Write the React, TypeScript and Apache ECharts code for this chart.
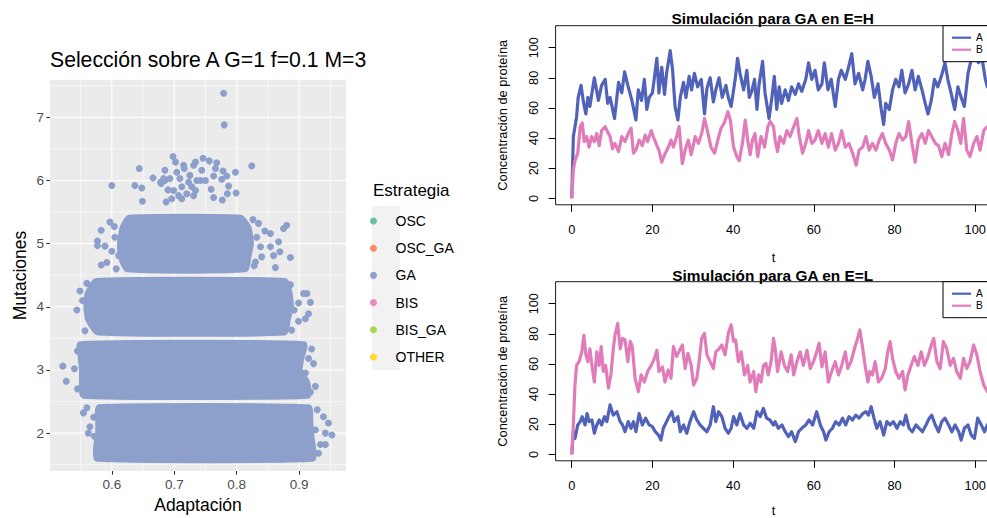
import React, { useEffect, useRef } from "react";
import * as echarts from "echarts";

// ---------- Left panel: scatter (Estrategia) ----------
const STRATEGIES = ["OSC", "OSC_GA", "GA", "BIS", "BIS_GA", "OTHER"];
const STRATEGY_COLORS = ["#66C2A5", "#FC8D62", "#8DA0CB", "#E78AC3", "#A6D854", "#FFD92F"];

// dense jittered clouds (outline of point centres) for Mutaciones = 2..5
const core2 = [[0.58, 2.4], [0.915, 2.4], [0.917, 2.2], [0.918, 2.0], [0.921, 1.8], [0.921, 1.6], [0.577, 1.6], [0.576, 1.8], [0.579, 2.0], [0.579, 2.2]];
const core3 = [[0.55, 3.4], [0.907, 3.4], [0.903, 3.2], [0.9, 3.0], [0.912, 2.8], [0.913, 2.6], [0.555, 2.6], [0.553, 2.8], [0.553, 3.0], [0.551, 3.2]];
const core4 = [[0.575, 4.4], [0.877, 4.4], [0.884, 4.2], [0.886, 4.0], [0.881, 3.8], [0.876, 3.6], [0.578, 3.6], [0.563, 3.8], [0.56, 4.0], [0.562, 4.2]];
const core5 = [[0.628, 5.4], [0.806, 5.4], [0.818, 5.25], [0.822, 5.0], [0.818, 4.8], [0.813, 4.6], [0.625, 4.6], [0.615, 4.8], [0.614, 5.0], [0.618, 5.25]];
const GA_CORES = [core2, core3, core4, core5];

// individual visible points (GA)
const gaPoints = [
  // Mutaciones 2
  [0.5545, 2.32], [0.565, 2.1], [0.5625, 2.0], [0.56, 2.4], [0.939, 2.26], [0.947, 2.16], [0.9525, 1.97], [0.942, 2.0],
  [0.934, 1.82], [0.942, 1.82], [0.931, 1.68], [0.929, 2.37], [0.572, 1.95], [0.571, 2.25], [0.926, 2.05],
  // Mutaciones 3
  [0.5215, 3.06], [0.527, 2.82], [0.54, 3.02], [0.92, 3.33], [0.923, 3.1], [0.926, 2.74], [0.915, 3.18], [0.545, 2.7], [0.545, 3.3],
  [0.91, 2.95], [0.918, 2.65],
  // Mutaciones 4
  [0.544, 3.95], [0.557, 3.62], [0.549, 4.25], [0.56, 4.37], [0.907, 4.21], [0.9125, 4.21], [0.918, 4.07], [0.915, 3.89],
  [0.91, 3.81], [0.899, 3.77], [0.888, 3.63], [0.886, 4.35], [0.899, 4.06], [0.553, 4.1], [0.892, 3.95],
  // Mutaciones 5
  [0.597, 5.34], [0.583, 5.21], [0.577, 5.04], [0.589, 4.96], [0.577, 4.97], [0.583, 4.66], [0.592, 4.7], [0.607, 4.6],
  [0.611, 4.81], [0.604, 5.27], [0.62, 5.27], [0.88, 5.29], [0.875, 5.24], [0.867, 5.03], [0.854, 5.16], [0.854, 4.95],
  [0.886, 4.78], [0.869, 4.87], [0.859, 4.81], [0.862, 4.62], [0.84, 4.79], [0.838, 4.95], [0.835, 5.32], [0.845, 5.2],
  [0.83, 4.71], [0.828, 4.65], [0.605, 5.1], [0.6, 4.88], [0.832, 5.1], [0.826, 5.38],
  // Mutaciones 6
  [0.6, 5.92], [0.637, 5.92], [0.648, 5.88], [0.644, 6.19], [0.649, 5.67], [0.666, 6.04], [0.679, 5.95], [0.683, 6.03],
  [0.685, 6.16], [0.69, 5.85], [0.687, 5.66], [0.693, 6.03], [0.698, 6.38], [0.702, 6.29], [0.704, 6.13], [0.696, 5.71],
  [0.709, 6.03], [0.712, 5.71], [0.715, 6.24], [0.72, 5.79], [0.723, 5.97], [0.725, 6.08], [0.731, 6.24], [0.734, 6.29],
  [0.736, 6.0], [0.734, 5.84], [0.731, 5.76], [0.742, 6.0], [0.746, 6.35], [0.744, 6.16], [0.75, 6.0], [0.756, 6.31],
  [0.759, 5.86], [0.763, 5.73], [0.766, 6.19], [0.768, 6.28], [0.763, 6.07], [0.778, 6.15], [0.776, 6.02], [0.784, 6.07],
  [0.777, 5.69], [0.787, 5.91], [0.785, 5.79], [0.798, 6.13], [0.799, 5.8], [0.824, 6.23], [0.685, 6.0], [0.712, 5.9],
  [0.728, 5.9], [0.699, 5.84], [0.716, 6.19], [0.707, 5.76], [0.678, 5.97],
  // Mutaciones 7
  [0.779, 7.38], [0.78, 6.88],
];

const X_MAJOR = [0.6, 0.7, 0.8, 0.9];
const X_MINOR = [0.55, 0.65, 0.75, 0.85, 0.95];
const Y_MAJOR = [2, 3, 4, 5, 6, 7];
const Y_MINOR = [1.5, 2.5, 3.5, 4.5, 5.5, 6.5, 7.5];

// ---------- Right panels: simulations ----------
const T_TICKS = [0, 20, 40, 60, 80, 100];
const C_TICKS = [0, 20, 40, 60, 80, 100];

// E=H, A
const tAH = [0, 0.4, 1.2, 1.6, 2.3, 2.9, 3.5, 4, 4.5, 5.6, 6.2, 6.6, 7.4, 8.3, 8.9, 9.5, 10.6, 11.6, 12.4, 13.1, 13.9, 14.9, 15.9, 16.5, 17.3, 18, 18.6, 19.2, 20, 21.1, 21.6, 22.3, 23, 23.5, 24.4, 25, 25.6, 26.3, 26.9, 27.7, 28.3, 29.1, 29.7, 30.4, 31.2, 32.1, 32.9, 33.5, 34.3, 35.1, 35.7, 36.5, 37.3, 38.2, 38.8, 39.5, 40.5, 41.1, 41.7, 42.6, 43.4, 44, 44.6, 45.3, 45.9, 46.4, 47.3, 47.9, 48.9, 49.6, 50.2, 50.8, 51.4, 52, 52.9, 53.7, 54.5, 55.4, 56.2, 57, 58, 58.7, 59.5, 60.3, 61.1, 62, 62.6, 63.5, 64.3, 65.3, 66.1, 66.8, 67.8, 68.6, 69.4, 70.2, 71.1, 72.1, 72.7, 73.4, 74.2, 75, 75.9, 76.7, 77.3, 77.8, 78.7, 79.5, 80.3, 81.1, 81.8, 82.6, 83.5, 84.3, 85.1, 85.9, 86.8, 87.6, 88.3, 89.1, 89.9, 90.7, 91.6, 92.5, 93.2, 94, 94.9, 95.7, 96.5, 97.3, 98.2, 99, 99.8, 100.8, 101.6, 102.5, 103, 104];
const vAH = [0, 41, 54, 67, 75, 64, 56, 67, 61, 80, 71, 65, 75, 79, 63, 67, 53, 77, 70, 84, 75, 65, 52, 72, 65, 79, 59, 67, 70, 93, 70, 87, 69, 83, 98, 85, 61, 52, 67, 77, 67, 81, 72, 83, 74, 79, 56, 73, 80, 64, 72, 80, 67, 75, 67, 61, 79, 93, 83, 72, 85, 67, 71, 79, 59, 75, 91, 70, 53, 67, 81, 59, 74, 63, 72, 65, 74, 69, 76, 71, 79, 90, 79, 85, 72, 76, 90, 72, 79, 61, 79, 85, 79, 87, 96, 76, 83, 72, 79, 91, 81, 67, 76, 59, 49, 63, 59, 72, 79, 74, 85, 70, 76, 85, 72, 81, 72, 63, 56, 65, 79, 74, 81, 90, 79, 70, 59, 74, 67, 61, 83, 92, 98, 90, 94, 79, 74, 80];
// E=H, B
const tBH = [0, 0.4, 0.8, 1.5, 2.1, 2.6, 3.1, 3.7, 4.3, 4.9, 5.6, 6.2, 6.8, 7.4, 8.3, 8.9, 9.5, 10.1, 10.7, 11.6, 12.4, 13.2, 14, 14.7, 15.3, 15.9, 16.7, 17.5, 18.2, 18.8, 19.7, 20.2, 21.1, 21.6, 22.3, 23, 23.8, 24.6, 25.2, 26, 26.6, 27.4, 28.1, 28.9, 29.6, 30.6, 31.4, 32.2, 32.9, 33.7, 34.5, 35.4, 36.2, 37, 37.8, 38.7, 39.3, 40.1, 40.9, 41.5, 42.3, 43, 43.6, 44.2, 44.8, 45.4, 46.1, 46.9, 47.8, 48.6, 49.2, 50, 50.4, 51, 51.6, 52.5, 53.3, 54.1, 55, 55.8, 56.4, 57.2, 58, 58.7, 59.5, 60.3, 61.1, 62, 62.8, 63.6, 64.4, 65.3, 66.1, 66.9, 67.8, 68.7, 69.6, 70.5, 71.2, 72.1, 72.9, 73.7, 74.5, 75.4, 76.2, 77, 77.8, 78.7, 79.5, 80.3, 81.1, 82, 82.8, 83.5, 84.3, 85.1, 85.9, 86.8, 87.6, 88.4, 89.2, 90.1, 90.9, 91.7, 92.5, 93.4, 94.2, 94.9, 95.7, 96.4, 97.1, 97.9, 98.7, 99.6, 100.4, 101.2, 102.1, 103, 104];
const vBH = [0, 19, 25, 30, 47.6, 50, 37.6, 41, 34, 41, 37.6, 43, 35, 45, 47.6, 44, 41, 33, 36.5, 31, 41, 37.6, 43, 46.5, 30, 32, 38.7, 35, 42, 37.6, 45, 41, 35, 32, 24, 29, 33, 38.7, 34, 41, 47.6, 23, 32, 38.7, 29, 41, 36.5, 43, 53, 44, 34, 30, 38.7, 46.5, 50, 57.5, 52, 34, 27.7, 25, 36.5, 52, 38.7, 29, 38.7, 43, 27.7, 41, 34, 47.6, 51, 47.6, 38.7, 31, 41, 36.5, 45, 41, 47.6, 53, 41, 30, 36.5, 45, 36.5, 38.7, 45, 36.5, 43, 34, 43, 32, 36.5, 45, 34, 36.5, 30, 22, 32, 34, 41, 32, 36.5, 32, 38.7, 43, 36.5, 32, 25.5, 36.5, 43, 38.7, 41, 51, 36.5, 24, 38.7, 43, 36.5, 45, 41, 36.5, 35, 27.7, 36.5, 29, 43, 51, 45, 36.5, 53, 32, 27.7, 36.5, 41, 32, 45, 47.6, 44];
// E=L, A
const tAL = [0, 0.4, 0.8, 1.5, 2.1, 2.6, 3.3, 3.8, 4.3, 5, 5.6, 6.2, 6.8, 7.4, 8.1, 8.7, 9.5, 10.3, 11.2, 12, 12.6, 13.2, 14, 14.7, 15.3, 15.9, 16.7, 17.5, 18.3, 19.2, 20, 20.7, 21.5, 22.1, 22.7, 23.5, 24.1, 24.8, 25.4, 26.3, 26.9, 27.7, 28.5, 29.3, 30.2, 31, 31.8, 32.6, 33.5, 34.3, 35.1, 35.7, 36.4, 37.2, 38, 38.8, 39.5, 40.1, 40.9, 41.7, 42.6, 43.4, 44.2, 45.1, 45.9, 46.7, 47.5, 48.3, 49.1, 50, 50.4, 51.2, 52.1, 52.9, 53.7, 54.5, 55.4, 56.2, 57, 58, 58.8, 59.7, 60.7, 61.6, 62.4, 63, 63.8, 64.6, 65.4, 66.3, 67.1, 67.9, 68.7, 69.6, 70.4, 71.2, 72.1, 72.9, 73.5, 74.2, 74.9, 75.6, 76.4, 77.3, 78.1, 78.9, 79.7, 80.6, 81.4, 82.2, 82.8, 83.6, 84.4, 85.3, 86.1, 86.9, 87.8, 88.6, 89.2, 90.1, 90.9, 91.7, 92.5, 93.4, 94.2, 95, 95.9, 96.5, 97.3, 98.2, 99, 99.8, 100.6, 101.5, 102.3, 103, 104];
const vAL = [0, 15, 10.6, 19.5, 21.7, 25, 19.5, 27, 21.7, 22.8, 14, 19.5, 22.8, 19.5, 25, 21.7, 32.8, 26, 28.3, 21.7, 19.5, 15, 21.7, 17.3, 21.7, 15, 27, 19.5, 24, 19.5, 18.4, 15, 12.8, 9.5, 17.3, 21.7, 25, 28.3, 21.7, 25, 15, 19.5, 14, 21.7, 28.3, 22.8, 19.5, 17.3, 15, 19.5, 31.6, 21.7, 28.3, 25, 17.3, 14, 17.3, 25, 19.5, 27, 19.5, 17.3, 20.6, 17.3, 28.3, 25, 30.5, 24, 22.8, 19.5, 21.7, 17.3, 19.5, 15, 11.7, 15, 8.4, 15, 17.3, 19.5, 22.8, 19.5, 28.3, 19.5, 15, 9.5, 15, 17.3, 21.7, 19.5, 24, 19.5, 25, 22.8, 26, 24, 27, 28.3, 26, 31.6, 24, 17.3, 21.7, 12.8, 21.7, 19.5, 21.7, 17.3, 21.7, 19.5, 26, 17.3, 15, 19.5, 17.3, 15, 19.5, 24, 26, 19.5, 15, 21.7, 24, 19.5, 15, 19.5, 15, 9.5, 17.3, 19.5, 12.8, 10.6, 24, 19.5, 15, 19.5, 17];
// E=L, B
const tBL = [0, 0.4, 0.8, 1.2, 1.8, 2.5, 3, 3.5, 4, 4.5, 5.1, 5.6, 6.2, 6.8, 7.3, 7.8, 8.4, 9.1, 9.7, 10.3, 10.7, 11.4, 12, 12.6, 13.2, 13.9, 14.5, 15, 15.7, 16.5, 17.2, 18, 18.8, 19.7, 20.5, 21.1, 21.6, 22.5, 23.1, 23.9, 24.6, 25.2, 26, 26.9, 27.4, 28.1, 28.8, 29.6, 30.2, 31, 31.6, 32.2, 32.9, 33.5, 34.3, 35.1, 35.7, 36.5, 37.2, 38, 38.8, 39.5, 40.1, 40.6, 41.3, 42, 42.8, 43.6, 44.2, 45.1, 45.6, 46.3, 46.9, 47.5, 48.1, 48.7, 49.4, 50, 50.4, 51, 51.9, 52.7, 53.5, 54.4, 55, 55.8, 56.6, 57.4, 58.3, 59.1, 59.9, 60.7, 61.3, 62, 62.8, 63.6, 64.4, 65.3, 66.1, 66.9, 67.8, 68.4, 69.2, 70.1, 70.6, 71.4, 72.1, 72.7, 73.4, 73.9, 74.5, 75.2, 76, 76.8, 77.7, 78.3, 78.9, 79.5, 80.3, 81.1, 82, 82.6, 83.3, 84.1, 84.9, 85.8, 86.6, 87.4, 88.3, 89.1, 89.7, 90.5, 91.3, 92.1, 92.9, 93.8, 94.6, 95.4, 96.3, 97.1, 97.9, 98.7, 99.6, 100.4, 101.2, 102.1, 103, 104];
const vBL = [0, 19.5, 46, 59, 61.5, 68, 79, 66, 61.5, 70, 57, 48, 68, 59, 71.5, 55, 59, 44, 52.7, 70, 79, 87, 70, 77, 76, 61.5, 75, 71.5, 50.5, 41.6, 52.7, 48, 55, 59, 63.7, 69, 55, 58, 48, 56, 50.5, 71.5, 65, 70, 72.6, 57, 67, 59, 46, 50.5, 62.6, 77, 80.3, 66, 61.5, 57, 68, 70, 72.6, 66, 80.3, 86, 75, 76, 61.5, 68, 52.7, 59, 48, 55, 41.6, 52.7, 48, 59, 60.4, 52.7, 61.5, 77, 70.4, 55, 68, 59, 55, 66, 52.7, 61.5, 68, 59, 69, 57, 61.5, 68, 73.7, 58, 68, 48, 55, 61.5, 52.7, 59, 68, 57, 61.5, 70.4, 74.8, 82.6, 70.4, 59, 48, 55, 52.7, 61.5, 48, 50.5, 57, 68, 74.8, 63.7, 55, 50.5, 55, 42.7, 52.7, 59, 64.9, 59, 68, 59, 64.9, 72.6, 77, 61.5, 57, 74.8, 70.4, 59, 63.7, 55, 50.5, 63.7, 57, 61.5, 72.6, 66, 55, 46, 41.6, 45];

const COLOR_A = "#5062B9";
const COLOR_B = "#E07CBA";
const GA_COLOR = STRATEGY_COLORS[2];
const FONT = "'Liberation Sans', Arial, Helvetica, sans-serif";

const zip = (t: number[], v: number[]) => t.map((x, i) => [x, v[i]]);

const X0 = [0.501, 0.975];
const Y0 = [1.4, 7.59];

function buildOption() {
  const gridData: number[][] = [
    ...X_MINOR.map((v) => [0, v, 0]),
    ...Y_MINOR.map((v) => [1, v, 0]),
    ...X_MAJOR.map((v) => [0, v, 1]),
    ...Y_MAJOR.map((v) => [1, v, 1]),
  ];

  const rightX = (gi: number, gap: number) => ({
    type: "value",
    gridIndex: gi,
    min: -4,
    max: 104,
    axisLine: { show: false, onZero: false },
    splitLine: { show: false },
    axisTick: { show: true, customValues: T_TICKS, length: 7, lineStyle: { color: "#000", width: 1 } },
    axisLabel: { customValues: T_TICKS, color: "#000", fontSize: 12.8, margin: 18, fontFamily: FONT },
    name: "t",
    nameLocation: "middle",
    nameGap: gap,
    nameTextStyle: { color: "#000", fontSize: 12.8, fontFamily: FONT },
  });
  const rightY = (gi: number) => ({
    type: "value",
    gridIndex: gi,
    min: -4.3,
    max: 114.6,
    axisLine: { show: false, onZero: false },
    splitLine: { show: false },
    axisTick: { show: true, customValues: C_TICKS, length: 7, lineStyle: { color: "#000", width: 1 } },
    axisLabel: { customValues: C_TICKS, color: "#000", fontSize: 12.8, margin: 16, rotate: 90, fontFamily: FONT },
    name: "Concentración de proteína",
    nameLocation: "middle",
    nameGap: 47,
    nameTextStyle: { color: "#000", fontSize: 12.8, fontFamily: FONT },
  });
  const rightLegend = (top: number) => ({
    data: [
      { name: "A", icon: "rect" },
      { name: "B", icon: "rect" },
    ],
    orient: "vertical",
    left: 943,
    top,
    itemWidth: 19,
    itemHeight: 2.2,
    itemGap: 2,
    padding: [7, 8, 7, 9],
    borderColor: "#000",
    borderWidth: 1,
    borderRadius: 0,
    backgroundColor: "#fff",
    selectedMode: false,
    textStyle: { color: "#000", fontSize: 10.2, lineHeight: 10, fontFamily: FONT },
  });
  const lineSeries = (name: string, data: number[][], color: string, gi: number) => ({
    type: "line",
    name,
    xAxisIndex: gi,
    yAxisIndex: gi,
    data,
    symbol: "none",
    showSymbol: false,
    clip: true,
    z: 3,
    lineStyle: { color, width: 3.2, join: "round" },
    itemStyle: { color },
  });

  return {
    animation: false,
    backgroundColor: "#fff",
    textStyle: { fontFamily: FONT },
    grid: [
      { left: 50, top: 80, width: 296, height: 391, show: true, backgroundColor: "#EBEBEB", borderWidth: 0, outerBoundsMode: "none" },
      { left: 555.6, top: 25.7, width: 435.8, height: 179.1, show: true, backgroundColor: "transparent", borderColor: "#1a1a1a", borderWidth: 1, outerBoundsMode: "none" },
      { left: 555.6, top: 281.7, width: 435.8, height: 179.1, show: true, backgroundColor: "transparent", borderColor: "#1a1a1a", borderWidth: 1, outerBoundsMode: "none" },
    ],
    xAxis: [
      {
        type: "value",
        gridIndex: 0,
        min: X0[0],
        max: X0[1],
        axisLine: { show: false, onZero: false },
        splitLine: { show: false },
        axisTick: { show: true, customValues: X_MAJOR, length: 3.7, lineStyle: { color: "#333", width: 1.1 } },
        axisLabel: { customValues: X_MAJOR, color: "#4D4D4D", fontSize: 13.5, margin: 6, fontFamily: FONT },
        name: "Adaptación",
        nameLocation: "middle",
        nameGap: 25,
        nameTextStyle: { color: "#000", fontSize: 17.5, fontFamily: FONT },
      },
      rightX(1, 46),
      rightX(2, 43),
    ],
    yAxis: [
      {
        type: "value",
        gridIndex: 0,
        min: Y0[0],
        max: Y0[1],
        axisLine: { show: false, onZero: false },
        splitLine: { show: false },
        axisTick: { show: true, customValues: Y_MAJOR, length: 3.7, lineStyle: { color: "#333", width: 1.1 } },
        axisLabel: { customValues: Y_MAJOR, color: "#4D4D4D", fontSize: 13.5, margin: 6, fontFamily: FONT },
        name: "Mutaciones",
        nameLocation: "middle",
        nameGap: 21,
        nameTextStyle: { color: "#000", fontSize: 17.5, fontFamily: FONT },
      },
      rightY(1),
      rightY(2),
    ],
    legend: [
      {
        data: STRATEGIES,
        orient: "vertical",
        left: 370,
        top: 214,
        padding: 0,
        icon: "circle",
        itemWidth: 34,
        itemHeight: 7,
        itemGap: 13.2,
        selectedMode: false,
        textStyle: { color: "#000", fontSize: 14, lineHeight: 14, fontFamily: FONT },
      },
      rightLegend(25.7),
      rightLegend(281.7),
    ],
    graphic: [
      { type: "rect", left: 372, top: 206, shape: { width: 28, height: 164 }, style: { fill: "#F2F2F2" }, z: 0, silent: true },
      { type: "text", x: 50, y: 59.4, style: { text: "Selección sobre A G=1 f=0.1 M=3", fill: "#000", font: `21.2px ${FONT}`, textVerticalAlign: "middle" } },
      { type: "text", x: 373, y: 190, style: { text: "Estrategia", fill: "#000", font: `17px ${FONT}`, textVerticalAlign: "middle" } },
      { type: "text", x: 772.7, y: 18.7, style: { text: "Simulación para GA en E=H", fill: "#000", font: `bold 15.4px ${FONT}`, textAlign: "center", textVerticalAlign: "middle" } },
      { type: "text", x: 772.7, y: 275.4, style: { text: "Simulación para GA en E=L", fill: "#000", font: `bold 15.4px ${FONT}`, textAlign: "center", textVerticalAlign: "middle" } },
    ],
    series: [
      {
        type: "custom",
        name: "grid-lines",
        xAxisIndex: 0,
        yAxisIndex: 0,
        z: 1,
        silent: true,
        data: gridData,
        renderItem: (params: any, api: any) => {
          const kind = api.value(0);
          const v = api.value(1);
          const major = api.value(2) === 1;
          const p1 = kind === 0 ? api.coord([v, Y0[0]]) : api.coord([X0[0], v]);
          const p2 = kind === 0 ? api.coord([v, Y0[1]]) : api.coord([X0[1], v]);
          return {
            type: "line",
            shape: { x1: p1[0], y1: p1[1], x2: p2[0], y2: p2[1] },
            style: { stroke: "#FFFFFF", lineWidth: major ? 1.1 : 0.55 },
          };
        },
      },
      {
        type: "custom",
        name: "GA-dense",
        xAxisIndex: 0,
        yAxisIndex: 0,
        z: 2,
        silent: true,
        data: GA_CORES.map((c, i) => [c[0][0], c[0][1], i]),
        renderItem: (params: any, api: any) => {
          const poly = GA_CORES[params.dataIndex];
          const pts = poly.map((p) => api.coord(p));
          return {
            type: "polygon",
            shape: { points: pts, smooth: 0.15 },
            style: { fill: GA_COLOR, stroke: GA_COLOR, lineWidth: 7, lineJoin: "round" },
          };
        },
      },
      ...STRATEGIES.map((s, i) => ({
        type: "scatter",
        name: s,
        xAxisIndex: 0,
        yAxisIndex: 0,
        z: 3,
        symbol: "circle",
        symbolSize: 7,
        data: s === "GA" ? gaPoints : [],
        itemStyle: { color: STRATEGY_COLORS[i], opacity: 1 },
      })),
      lineSeries("A", zip(tAH, vAH), COLOR_A, 1),
      lineSeries("B", zip(tBH, vBH), COLOR_B, 1),
      lineSeries("A", zip(tAL, vAL), COLOR_A, 2),
      lineSeries("B", zip(tBL, vBL), COLOR_B, 2),
    ],
  };
}

export default function App() {
  const ref = useRef<HTMLDivElement>(null);
  useEffect(() => {
    if (!ref.current) return;
    const chart = echarts.init(ref.current, null, { renderer: "svg" });
    chart.setOption(buildOption() as any);
    return () => chart.dispose();
  }, []);
  return (
    <div style={{ position: "fixed", left: 0, top: 0, width: 987, height: 518, overflow: "hidden", background: "#fff" }}>
      <div ref={ref} style={{ width: 1000, height: 518 }} />
    </div>
  );
}
